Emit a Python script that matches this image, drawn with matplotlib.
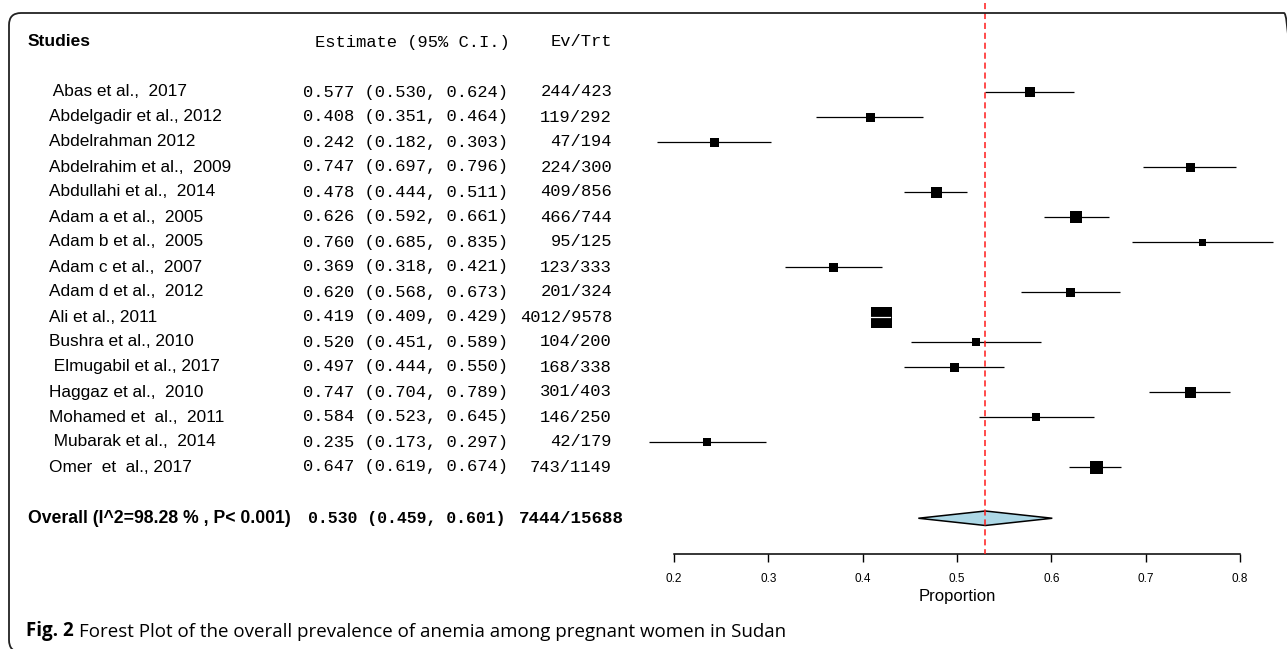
import matplotlib
matplotlib.use("Agg")
import matplotlib.pyplot as plt
from matplotlib.transforms import blended_transform_factory
from matplotlib.patches import FancyBboxPatch

plt.rcParams['font.family'] = ['Liberation Sans', 'DejaVu Sans']

# Data
studies = [" Abas et al.,  2017", "Abdelgadir et al., 2012", "Abdelrahman 2012",
           "Abdelrahim et al.,  2009", "Abdullahi et al.,  2014", "Adam a et al.,  2005",
           "Adam b et al.,  2005", "Adam c et al.,  2007", "Adam d et al.,  2012",
           "Ali et al., 2011", "Bushra et al., 2010", " Elmugabil et al., 2017",
           "Haggaz et al.,  2010", "Mohamed et  al.,  2011", " Mubarak et al.,  2014",
           "Omer  et  al., 2017"]
est = [0.577, 0.408, 0.242, 0.747, 0.478, 0.626, 0.760, 0.369, 0.620,
       0.419, 0.520, 0.497, 0.747, 0.584, 0.235, 0.647]
lo = [0.530, 0.351, 0.182, 0.697, 0.444, 0.592, 0.685, 0.318, 0.568,
      0.409, 0.451, 0.444, 0.704, 0.523, 0.173, 0.619]
hi = [0.624, 0.464, 0.303, 0.796, 0.511, 0.661, 0.835, 0.421, 0.673,
      0.429, 0.589, 0.550, 0.789, 0.645, 0.297, 0.674]
events = [244, 119, 47, 224, 409, 466, 95, 123, 201, 4012, 104, 168, 301, 146, 42, 743]
totals = [423, 292, 194, 300, 856, 744, 125, 333, 324, 9578, 200, 338, 403, 250, 179, 1149]
# box side (px) as drawn in the figure, proportional to study weight
box_px = [10, 9, 9, 9, 11, 12, 7, 9, 9, 21, 8, 9, 11, 8, 8, 13]

overall_label = "Overall (I^2=98.28 % , P< 0.001)"
overall_est, overall_lo, overall_hi = 0.530, 0.459, 0.601
overall_ev, overall_n = 7444, 15688
x_ticks = [0.2, 0.3, 0.4, 0.5, 0.6, 0.7, 0.8]

W, H = 1287, 649
fig = plt.figure(figsize=(W / 100, H / 100), dpi=100)
ax = fig.add_axes([0, 95 / H, 1, 554 / H])
ax.set_xlim(-0.5145, 0.8498)
ax.set_ylim(18.48, -3.68)

rows = list(range(len(studies)))
overall_row = 17.05

# CI lines and boxes
for i in rows:
    ax.plot([lo[i], hi[i]], [i, i], color='black', lw=0.9, solid_capstyle='butt')
    ax.plot(est[i], i, marker='s', color='black', markersize=box_px[i] * 0.72, mec='black', mew=0)
    if (hi[i] - lo[i]) * 943.3 < box_px[i]:
        ax.plot([lo[i], hi[i]], [i, i], color='white', lw=0.9)

# overall diamond
ax.fill([overall_lo, overall_est, overall_hi, overall_est],
        [overall_row, overall_row - 0.29, overall_row, overall_row + 0.29],
        facecolor='#add8e6', edgecolor='black', lw=1.1, zorder=3)

# reference line at pooled estimate
ax.vlines(overall_est, -3.56, 18.48, color='#ff1a1a', lw=1.1, linestyle=(0, (4, 2.5)), zorder=4)

# axis
for s in ['top', 'left', 'right']:
    ax.spines[s].set_visible(False)
ax.spines['bottom'].set_bounds(0.2, 0.8)
ax.spines['bottom'].set_linewidth(1.1)
ax.set_yticks([])
ax.set_xticks(x_ticks)
ax.set_xticklabels([f"{t:.1f}" for t in x_ticks])
ax.tick_params(axis='x', length=5.5, width=1, labelsize=8.5, pad=8)
ax.set_xlabel('Proportion', fontsize=12)
ax.xaxis.set_label_coords(0.5, -0.064, transform=blended_transform_factory(ax.transData, ax.transAxes))
ax.patch.set_alpha(0)

# text columns
tr = blended_transform_factory(fig.transFigure, ax.transData)
mono = 'Liberation Mono'
ax.text(28 / W, -2, "Studies", transform=tr, fontsize=12.5, fontweight='bold', va='center')
ax.text(510 / W, -2, "Estimate (95% C.I.)", transform=tr, fontsize=12.3, family=mono, va='center', ha='right')
ax.text(612 / W, -2, "Ev/Trt", transform=tr, fontsize=12.3, family=mono, va='center', ha='right')

for i in rows:
    ax.text(49 / W, i, studies[i], transform=tr, fontsize=12.4, va='center')
    ax.text(303 / W, i, f"{est[i]:.3f} ({lo[i]:.3f}, {hi[i]:.3f})", transform=tr,
            fontsize=12.3, family=mono, va='center')
    ax.text(612 / W, i, f"{events[i]}/{totals[i]}", transform=tr,
            fontsize=12.3, family=mono, va='center', ha='right')

ax.text(28 / W, overall_row, overall_label, transform=tr, fontsize=12.7, fontweight='bold', va='center')
ax.text(308 / W, overall_row, f"{overall_est:.3f} ({overall_lo:.3f}, {overall_hi:.3f})", transform=tr,
        fontsize=11.9, family=mono, fontweight='bold', va='center')
ax.text(519 / W, overall_row, f"{overall_ev}/{overall_n}", transform=tr,
        fontsize=12.6, family=mono, fontweight='bold', va='center')

# caption
cap_font = ['Open Sans', 'DejaVu Sans']
cap1 = fig.text(26 / W, 1 - 636 / H, "Fig. 2", fontsize=13.5, family=cap_font,
                fontweight='bold', va='baseline')
ax.annotate("Forest Plot of the overall prevalence of anemia among pregnant women in Sudan",
            xy=(1, 0), xycoords=cap1, xytext=(3.5, 0), textcoords='offset points',
            fontsize=13.5, family=cap_font, va='bottom', annotation_clip=False)

# rounded frame
frame = FancyBboxPatch((0.09, -0.03), 12.87, 6.39, boxstyle="round,pad=0,rounding_size=0.12",
                       transform=fig.dpi_scale_trans, facecolor='none', edgecolor='#222222', lw=1.3)
fig.add_artist(frame)

fig.savefig("out.png", dpi=100)
